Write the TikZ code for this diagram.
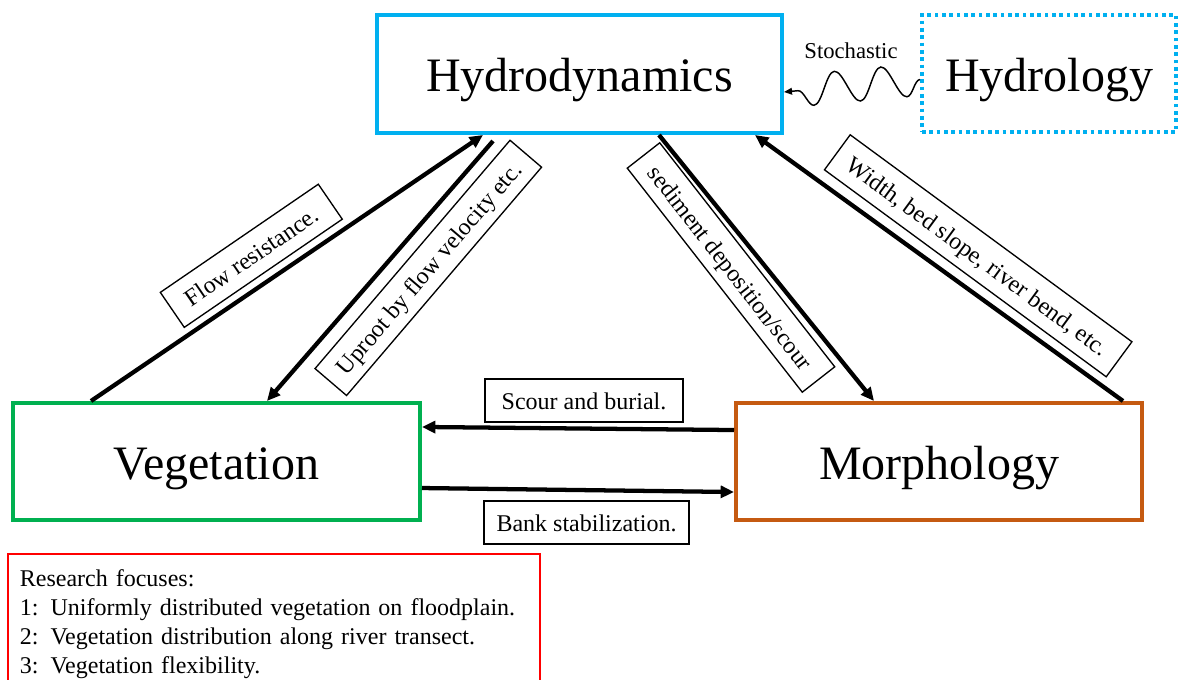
\documentclass[tikz,border=0pt]{standalone}
\usepackage{fontspec}
\setmainfont{Liberation Serif}
\usetikzlibrary{arrows.meta,decorations.pathmorphing}
\definecolor{hblue}{RGB}{0,176,240}
\definecolor{vgreen}{RGB}{0,176,80}
\definecolor{morange}{RGB}{197,90,17}
\definecolor{boxred}{RGB}{255,0,0}
\begin{document}
\begin{tikzpicture}[x=0.75pt,y=-0.75pt,
  bigbox/.style={draw, line width=3pt, inner sep=0pt, text height=27pt, text depth=0pt,
    font=\fontsize{36}{43}\selectfont},
  lbl/.style={draw, line width=1pt, inner sep=0pt, text height=13.2pt, text depth=0pt,
    font=\fontsize{18}{21.6}\selectfont},
  arr/.style={line width=3.2pt, -{Triangle[length=10pt,width=9pt]}},
  wavy/.style={line width=1.1pt, -{Triangle[length=6pt,width=5pt]}, decorate,
    decoration={snake, amplitude=12pt, segment length=35pt, post length=3pt}},
]
\useasboundingbox (0,0) rectangle (1182,680);
\clip (0,0) rectangle (1182,680);

% main boxes
\node[bigbox, draw=hblue, minimum width=303.75pt, minimum height=88.5pt] (hydro) at (579.5,74) {Hydrodynamics};
\node[bigbox, draw=hblue, dash pattern=on 2.75pt off 2.75pt, minimum width=190.5pt, minimum height=87.75pt] (hydrol) at (1049,73.5) {Hydrology};
\node[bigbox, draw=vgreen, minimum width=305.25pt, minimum height=87.75pt] (veg) at (216.5,461.5) {Vegetation};
\node[bigbox, draw=morange, minimum width=304.5pt, minimum height=87.75pt] (morph) at (939,461.5) {Morphology};

% stochastic link
\draw[wavy] ([yshift=-4.5pt]hydrol.west) -- ([yshift=-13.5pt]hydro.east);
\node[font=\fontsize{17}{20}\selectfont, inner sep=0pt] (stoch) at (851,51) {Stochastic};

% arrows
\draw[arr] ([xshift=60pt]veg.north west) -- ([xshift=81pt]hydro.south west);
\draw[arr] ([xshift=88.5pt,yshift=-4.5pt]hydro.south west) -- ([xshift=192pt]veg.north west);
\draw[arr] ([xshift=213pt]hydro.south west) -- ([xshift=105pt]morph.north west);
\draw[arr] ([xshift=291.75pt]morph.north west) -- ([xshift=285pt]hydro.south west);
\draw[arr] ([yshift=23.6pt]morph.west) -- ([yshift=25.9pt]veg.east);
\draw[arr] ([yshift=-19.9pt]veg.east) -- ([yshift=-22.9pt]morph.west);

% labels
\node[lbl, rotate=34.4, minimum width=143.6pt, minimum height=31.8pt] (lflow) at (251.3,255.8) {Flow resistance.};
\node[lbl, rotate=49.5, minimum width=225.2pt, minimum height=31.1pt] (lup) at (428.3,267.9) {Uproot by flow velocity etc.};
\node[lbl, rotate=-52, minimum width=213.2pt, minimum height=30.9pt] (lsed) at (731,267.5) {sediment deposition/scour};
\node[lbl, rotate=-36.3, minimum width=262.2pt, minimum height=32.6pt] (lwid) at (978.2,255.8) {Width, bed slope, river bend, etc.};
\node[lbl, minimum width=148.5pt, minimum height=32.3pt] (lsc) at (584,400.5) {Scour and burial.};
\node[lbl, minimum width=153.8pt, minimum height=32.3pt] (lbk) at (586.5,522.5) {Bank stabilization.};

% research focuses
\node[draw=boxred, line width=1.3pt, anchor=north west, text width=381pt, inner xsep=9pt, inner ysep=12pt,
  align=left, font=\fontsize{18}{21.75}\selectfont] (rf) at (7,553)
  {Research focuses:\\1: Uniformly distributed vegetation on floodplain.\\2: Vegetation distribution along river transect.\\3: Vegetation flexibility.};
\end{tikzpicture}
\end{document}
